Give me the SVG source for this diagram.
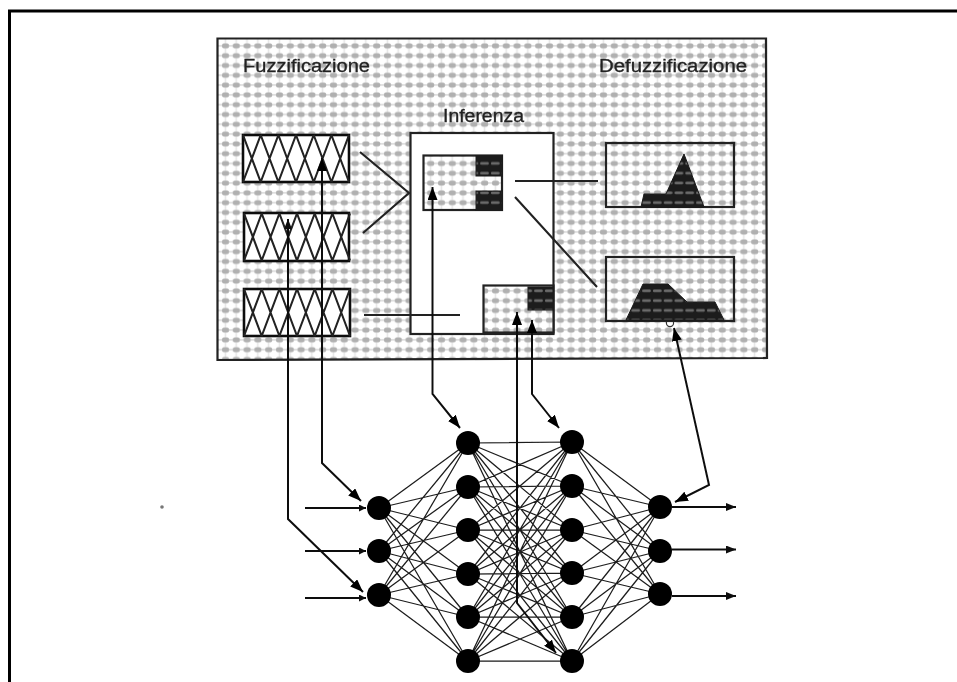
<svg xmlns="http://www.w3.org/2000/svg" width="957" height="682" viewBox="0 0 957 682">
<style>
.box{stroke:#222;stroke-width:2.2;fill:url(#dots)}
.hb{stroke:#111;stroke-width:2.6;fill:#fff}
.hatch{stroke:#222;stroke-width:2.1;fill:none}
.dark{fill:url(#darkdots);stroke:#1a1a1a;stroke-width:1}
.lbl{font-family:"Liberation Sans",Arial,sans-serif;font-size:18px;fill:#222;stroke:#222;stroke-width:.3}
.seg{stroke:#222;stroke-width:2.1;fill:none}
.arr{stroke:#111;stroke-width:2;fill:none}
.net{stroke:#1c1c1c;stroke-width:1.25;fill:none}
.neu{fill:#000}
</style>
<defs>
<pattern id="dots" width="10.8" height="9.8" patternUnits="userSpaceOnUse" x="220" y="41">
<rect width="10.8" height="9.8" fill="#fff"/>
<rect x="0" y="4" width="10.8" height="1.6" fill="#dcdcdc"/>
<rect x="4.6" y="0" width="1.6" height="9.800" fill="#e6e6e6"/>
<rect x="2" y="2.500" width="7" height="4.800" rx="1.800" fill="#b0b0b0"/>
</pattern>
<pattern id="darkdots" width="10.8" height="9.8" patternUnits="userSpaceOnUse" x="220" y="41">
<rect width="10.8" height="9.8" fill="#1c1c1c"/>
<rect x="1" y="3.400" width="8.600" height="2.800" rx="1" fill="#6a6a6a"/>
</pattern>
<path id="hatchp" class="hatch" d="M0 0L17.700 47M17.700 0L0 47M17.700 0L35.400 47M35.400 0L17.700 47M35.400 0L53 47M53 0L35.400 47M53 0L70.700 47M70.700 0L53 47M70.700 0L88.400 47M88.400 0L70.700 47M88.400 0L106 47M106 0L88.400 47"/>
<marker id="ah" viewBox="0 0 13 10" refX="13" refY="5" markerWidth="13" markerHeight="10" markerUnits="userSpaceOnUse" orient="auto-start-reverse"><path d="M0 0L13 5L0 10Z" fill="#000"/></marker>
<marker id="as" viewBox="0 0 10 8" refX="10" refY="4" markerWidth="10" markerHeight="8" markerUnits="userSpaceOnUse" orient="auto"><path d="M0 0L10 4L0 8Z" fill="#111"/></marker>
<marker id="at" viewBox="0 0 7 7" refX="7" refY="3.500" markerWidth="7" markerHeight="7" markerUnits="userSpaceOnUse" orient="auto"><path d="M0 0L7 3.500L0 7Z" fill="#111"/></marker>
<filter id="soft" filterUnits="userSpaceOnUse" x="0" y="0" width="957" height="682"><feGaussianBlur stdDeviation="0.75"/></filter>
</defs>
<rect width="957" height="682" fill="#fff"/>
<g filter="url(#soft)">
<path id="frame" d="M9.500 682V11H957" fill="none" stroke="#000" stroke-width="3"/>
<circle cx="162" cy="507" r="1.800" fill="#777"/>

<g id="panel">
<polygon points="217.500,38.500 766,38.500 767,358 217.500,360" fill="url(#dots)" stroke="#222" stroke-width="2.200"/>
<text class="lbl" x="243" y="72" textLength="127" lengthAdjust="spacingAndGlyphs">Fuzzificazione</text>
<text class="lbl" x="599" y="72" textLength="148" lengthAdjust="spacingAndGlyphs">Defuzzificazione</text>
</g>

<g id="fuzz1"><rect class="hb" x="243" y="135" width="106" height="47"/><use href="#hatchp" x="243" y="135"/></g>
<g id="fuzz2"><rect class="hb" x="244" y="213" width="105" height="48"/><use href="#hatchp" x="244" y="213.500"/></g>
<g id="fuzz3"><rect class="hb" x="244" y="289" width="106" height="47"/><use href="#hatchp" x="244" y="289"/></g>

<g id="inferenza">
<text class="lbl" x="443" y="122" textLength="81" lengthAdjust="spacingAndGlyphs">Inferenza</text>
<rect x="410.500" y="133" width="143" height="201" fill="#fff" stroke="#222" stroke-width="2.200"/>
</g>
<g id="rule1">
<rect class="box" x="423.500" y="155.500" width="78.500" height="54.500"/>
<rect class="dark" x="476" y="156" width="26" height="20"/>
<rect class="dark" x="476" y="191" width="26" height="19"/>
</g>
<g id="rule2">
<rect class="box" x="483.500" y="285.500" width="70" height="47"/>
<rect class="dark" x="528" y="287" width="25" height="23"/>
</g>

<g id="defuzz1">
<rect class="box" x="606" y="143" width="128" height="64"/>
<polygon class="dark" points="641,207 644,194 666,194 684,154 704,207"/>
</g>
<g id="defuzz2">
<circle cx="670" cy="323" r="3.600" fill="#fff" stroke="#333" stroke-width="1.200"/>
<rect class="box" x="606" y="257" width="128" height="64"/>
<polygon class="dark" points="626,320 643,284 668,284 687,302 715,302 724,320"/>
</g>

<g id="connectors">
<path class="seg" d="M360 152L409 193L363 233M364 315H460M515 181H598M515 197L597 287"/>
<path class="net" d="M379 508L468 443M379 508L468 487M379 508L468 530M379 508L468 574M379 508L468 617M379 508L468 661M379 551L468 443M379 551L468 487M379 551L468 530M379 551L468 574M379 551L468 617M379 551L468 661M379 595L468 443M379 595L468 487M379 595L468 530M379 595L468 574M379 595L468 617M379 595L468 661"/>
<path class="net" d="M468 443L572 442M468 443L572 486M468 443L572 530M468 443L572 573M468 443L572 617M468 443L572 661M468 487L572 442M468 487L572 486M468 487L572 530M468 487L572 573M468 487L572 617M468 487L572 661M468 530L572 442M468 530L572 486M468 530L572 530M468 530L572 573M468 530L572 617M468 530L572 661M468 574L572 442M468 574L572 486M468 574L572 530M468 574L572 573M468 574L572 617M468 574L572 661M468 617L572 442M468 617L572 486M468 617L572 530M468 617L572 573M468 617L572 617M468 617L572 661M468 661L572 442M468 661L572 486M468 661L572 530M468 661L572 573M468 661L572 617M468 661L572 661"/>
<path class="net" d="M660 507L572 442M660 507L572 486M660 507L572 530M660 507L572 573M660 507L572 617M660 507L572 661M660 551L572 442M660 551L572 486M660 551L572 530M660 551L572 573M660 551L572 617M660 551L572 661M660 594L572 442M660 594L572 486M660 594L572 530M660 594L572 573M660 594L572 617M660 594L572 661"/>
<path class="arr" marker-start="url(#ah)" marker-end="url(#as)" d="M363 592L288 519V219"/>
<path class="arr" marker-start="url(#ah)" marker-end="url(#ah)" d="M361 501L322 463V158"/>
<path class="arr" marker-start="url(#ah)" marker-end="url(#ah)" d="M432.500 187V394L460 428"/>
<path class="arr" marker-start="url(#ah)" marker-end="url(#ah)" d="M517 312V603L556 653"/>
<path class="arr" marker-start="url(#ah)" marker-end="url(#ah)" d="M532 320V394L559 428"/>
<path class="arr" marker-start="url(#ah)" marker-end="url(#ah)" d="M674 328L709 485L675 502"/>
<path class="arr" marker-end="url(#at)" d="M305 508H366"/>
<path class="arr" marker-end="url(#at)" d="M305 551H366"/>
<path class="arr" marker-end="url(#at)" d="M305 598H366"/>
<path class="arr" marker-end="url(#as)" d="M672 507H736"/>
<path class="arr" marker-end="url(#as)" d="M672 549.500H736"/>
<path class="arr" marker-end="url(#as)" d="M672 596H736"/>
</g>

<g id="a1"><circle class="neu" cx="379" cy="508" r="12"/></g>
<g id="a2"><circle class="neu" cx="379" cy="551" r="12"/></g>
<g id="a3"><circle class="neu" cx="379" cy="595" r="12"/></g>
<g id="b1"><circle class="neu" cx="468" cy="443" r="12"/></g>
<g id="b2"><circle class="neu" cx="468" cy="487" r="12"/></g>
<g id="b3"><circle class="neu" cx="468" cy="530" r="12"/></g>
<g id="b4"><circle class="neu" cx="468" cy="574" r="12"/></g>
<g id="b5"><circle class="neu" cx="468" cy="617" r="12"/></g>
<g id="b6"><circle class="neu" cx="468" cy="661" r="12"/></g>
<g id="c1"><circle class="neu" cx="572" cy="442" r="12"/></g>
<g id="c2"><circle class="neu" cx="572" cy="486" r="12"/></g>
<g id="c3"><circle class="neu" cx="572" cy="530" r="12"/></g>
<g id="c4"><circle class="neu" cx="572" cy="573" r="12"/></g>
<g id="c5"><circle class="neu" cx="572" cy="617" r="12"/></g>
<g id="c6"><circle class="neu" cx="572" cy="661" r="12"/></g>
<g id="d1"><circle class="neu" cx="660" cy="507" r="12"/></g>
<g id="d2"><circle class="neu" cx="660" cy="551" r="12"/></g>
<g id="d3"><circle class="neu" cx="660" cy="594" r="12"/></g>
</g>
</svg>
